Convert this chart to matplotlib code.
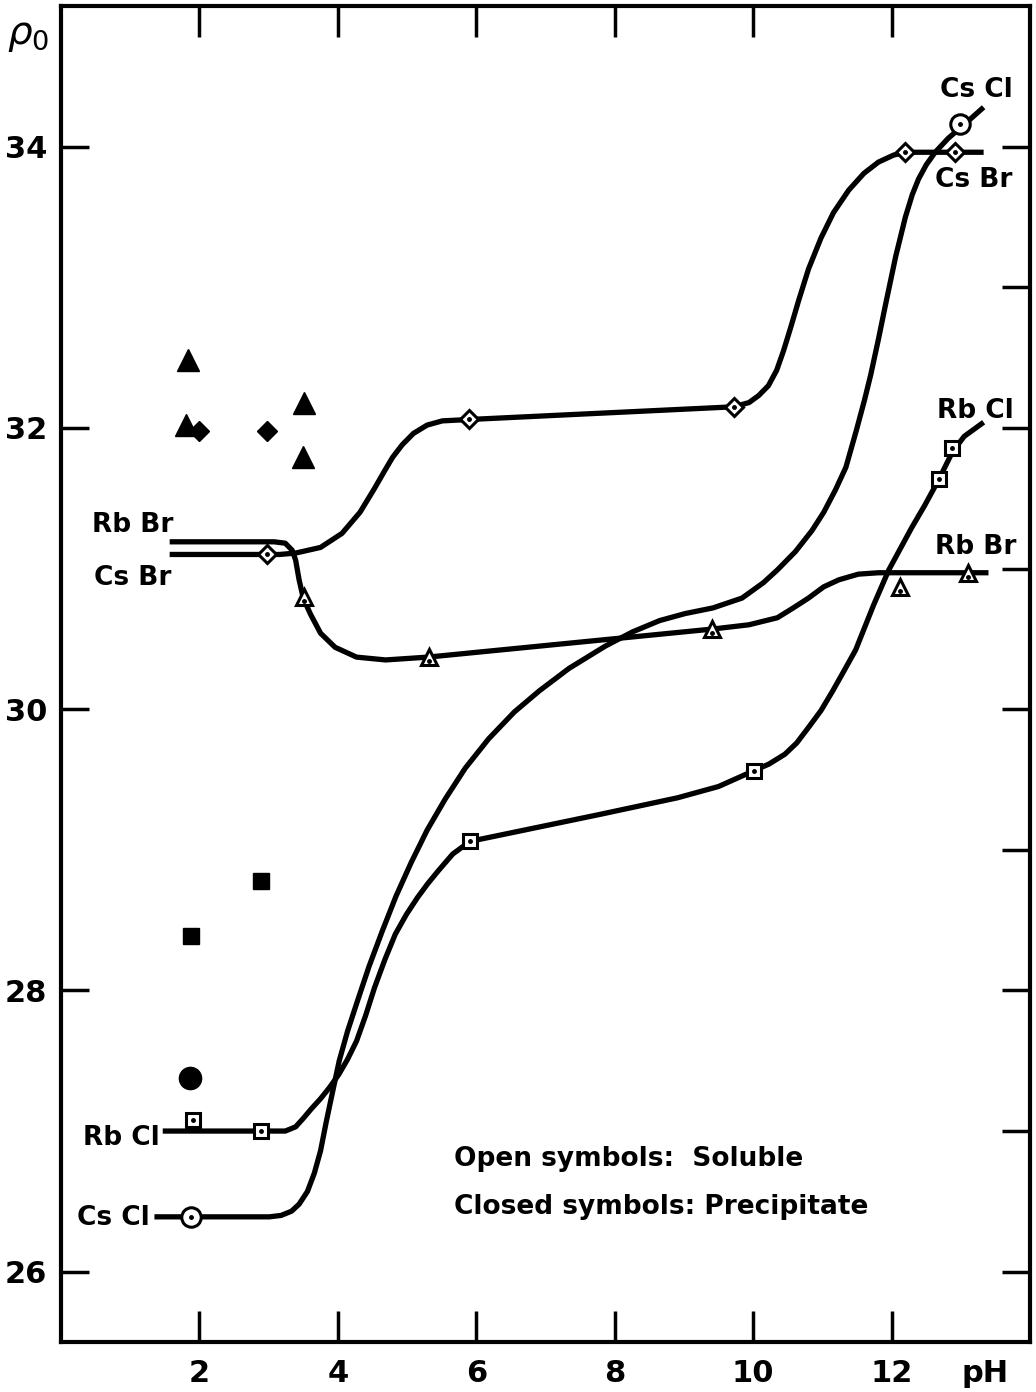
import numpy as np
import matplotlib
matplotlib.use("Agg")
import matplotlib.pyplot as plt

plt.rcParams['font.family'] = ['DejaVu Sans']

# traced curves (pH, rho_0)
csbr_x = [1.57, 2.98, 3.16, 3.39, 3.75, 4.06, 4.32, 4.53, 4.67, 4.79, 4.93, 5.09, 5.29, 5.51, 5.91,
          9.72, 9.94, 10.08, 10.22, 10.34, 10.44, 10.54, 10.66, 10.80, 10.98, 11.16, 11.38,
          11.60, 11.81, 12.03, 12.20, 12.91, 13.33]
csbr_y = [31.10, 31.10, 31.10, 31.11, 31.15, 31.25, 31.40, 31.57, 31.69, 31.79, 31.88, 31.96, 32.02, 32.05, 32.06,
          32.15, 32.18, 32.23, 32.30, 32.41, 32.55, 32.71, 32.91, 33.13, 33.35, 33.53, 33.69,
          33.81, 33.89, 33.94, 33.96, 33.96, 33.96]

rbbr_x = [1.57, 3.08, 3.24, 3.34, 3.39, 3.44, 3.50, 3.60, 3.75, 3.96, 4.27, 4.69, 5.30,
          9.42, 9.94, 10.35, 10.58, 10.80, 11.02, 11.24, 11.52, 11.81, 13.40]
rbbr_y = [31.19, 31.19, 31.18, 31.13, 31.06, 30.92, 30.79, 30.68, 30.54, 30.44, 30.37, 30.35, 30.37,
          30.57, 30.60, 30.65, 30.72, 30.79, 30.87, 30.92, 30.96, 30.97, 30.97]

rbcl_x = [1.47, 2.88, 3.24, 3.39, 3.50, 3.62, 3.75, 3.88, 4.01, 4.14, 4.27, 4.40, 4.53, 4.68, 4.83,
          4.99, 5.15, 5.30, 5.45, 5.66, 5.91, 7.77, 8.91, 9.50, 10.00, 10.23, 10.46, 10.63, 10.80,
          10.98, 11.15, 11.31, 11.48, 11.74, 11.96, 12.29, 12.48, 12.69, 12.88, 13.05, 13.33]
rbcl_y = [27.00, 27.00, 27.00, 27.03, 27.09, 27.16, 27.23, 27.31, 27.40, 27.51, 27.64, 27.82, 28.02, 28.22, 28.40,
          28.54, 28.66, 28.76, 28.85, 28.97, 29.06, 29.25, 29.37, 29.45, 29.56, 29.61, 29.68, 29.76, 29.87,
          29.99, 30.13, 30.27, 30.42, 30.74, 30.99, 31.29, 31.45, 31.64, 31.83, 31.94, 32.04]

cscl_x = [1.35, 3.01, 3.18, 3.33, 3.44, 3.56, 3.66, 3.75, 3.83, 3.92, 4.02, 4.14, 4.28, 4.45, 4.64,
          4.84, 5.06, 5.29, 5.55, 5.84, 6.18, 6.55, 6.91, 7.34, 7.87, 8.26, 8.65, 9.02, 9.42, 9.84,
          10.15, 10.35, 10.61, 10.85, 11.02, 11.19, 11.34, 11.49, 11.61, 11.70, 11.81, 11.91, 12.06,
          12.20, 12.30, 12.39, 12.50, 12.63, 12.82, 13.01, 13.33]
cscl_y = [26.39, 26.39, 26.40, 26.43, 26.48, 26.57, 26.70, 26.86, 27.06, 27.27, 27.50, 27.71, 27.92, 28.17, 28.42,
          28.67, 28.91, 29.14, 29.36, 29.58, 29.79, 29.98, 30.13, 30.29, 30.45, 30.55, 30.63, 30.68, 30.72, 30.79,
          30.90, 30.99, 31.12, 31.27, 31.40, 31.56, 31.72, 31.98, 32.20, 32.38, 32.63, 32.87, 33.22,
          33.50, 33.66, 33.77, 33.87, 33.96, 34.06, 34.14, 34.28]

# open symbols (soluble)
csbr_open_x = [2.98, 5.90, 9.72, 12.20, 12.91]
csbr_open_y = [31.10, 32.06, 32.15, 33.96, 33.96]
rbbr_open_x = [3.51, 5.32, 9.40, 12.12, 13.11]
rbbr_open_y = [30.80, 30.37, 30.57, 30.87, 30.97]
rbcl_open_x = [1.90, 2.89, 5.91, 10.01, 12.69, 12.88]
rbcl_open_y = [27.08, 27.00, 29.06, 29.56, 31.64, 31.86]
cscl_open_x = [1.88, 12.99]
cscl_open_y = [26.39, 34.16]

# closed symbols (precipitate)
rbbr_closed_x = [1.83, 1.81, 3.51, 3.50]
rbbr_closed_y = [32.48, 32.02, 32.18, 31.79]
csbr_closed_x = [2.00, 2.98]
csbr_closed_y = [31.98, 31.98]
rbcl_closed_x = [1.88, 2.89]
rbcl_closed_y = [28.39, 28.78]
cscl_closed_x = [1.86]
cscl_closed_y = [27.38]

xticks = [2, 4, 6, 8, 10, 12]
yticks = [26, 28, 30, 32, 34]

fig = plt.figure(figsize=(10.36, 13.92), dpi=100)
ax = fig.add_axes([61/1036, 1 - 1342/1392, (1030 - 61)/1036, (1342 - 6)/1392])

lw = 3.8
for cx, cy in [(csbr_x, csbr_y), (rbbr_x, rbbr_y), (rbcl_x, rbcl_y), (cscl_x, cscl_y)]:
    ax.plot(cx, cy, color='black', lw=lw, solid_joinstyle='round', solid_capstyle='butt', zorder=2)

opts = dict(linestyle='none', mfc='white', mec='black', mew=2.2, zorder=3)
ax.plot(csbr_open_x, csbr_open_y, marker='D', ms=9, **opts)
ax.plot(rbbr_open_x, rbbr_open_y, marker='^', ms=12, **opts)
ax.plot(rbcl_open_x, rbcl_open_y, marker='s', ms=10, **opts)
ax.plot(cscl_open_x, cscl_open_y, marker='o', ms=14, **opts)
# center dots
ax.plot(csbr_open_x + rbcl_open_x + cscl_open_x, csbr_open_y + rbcl_open_y + cscl_open_y,
        linestyle='none', marker='o', ms=2.5, color='black', zorder=4)
ax.plot(rbbr_open_x, np.array(rbbr_open_y) - 0.03, linestyle='none', marker='o', ms=2.5,
        color='black', zorder=4)

copts = dict(linestyle='none', color='black', zorder=3)
ax.plot(rbbr_closed_x, rbbr_closed_y, marker='^', ms=16, **copts)
ax.plot(csbr_closed_x, csbr_closed_y, marker='D', ms=10.5, **copts)
ax.plot(rbcl_closed_x, rbcl_closed_y, marker='s', ms=12, **copts)
ax.plot(cscl_closed_x, cscl_closed_y, marker='o', ms=16, **copts)

ax.set_xlim(0, 14)
ax.set_ylim(25.5, 35)
ax.set_xticks(xticks)
ax.set_xticklabels([str(t) for t in xticks])
ax.set_yticks(yticks)
ax.set_yticklabels([str(t) for t in yticks])
ax.set_yticks(np.arange(27, 35, 2), minor=True)

for s in ax.spines.values():
    s.set_linewidth(3.0)
ax.tick_params(axis='x', which='major', direction='in', length=22, width=2.5,
               top=True, bottom=True, pad=12, labelsize=22)
ax.tick_params(axis='y', which='major', direction='in', length=20, width=2.5,
               left=True, right=True, pad=10, labelsize=22)
ax.tick_params(axis='y', which='minor', direction='in', length=20, width=2.5,
               left=False, right=True)
for lab in ax.get_xticklabels() + ax.get_yticklabels():
    lab.set_fontweight('bold')

tk = dict(fontsize=19, fontweight='bold', va='center')
ax.text(1.03, 31.31, 'Rb Br', ha='center', **tk)
ax.text(1.03, 30.93, 'Cs Br', ha='center', **tk)
ax.text(1.42, 26.95, 'Rb Cl', ha='right', **tk)
ax.text(1.28, 26.38, 'Cs Cl', ha='right', **tk)
ax.text(13.23, 34.40, 'Cs Cl', ha='center', **tk)
ax.text(13.18, 33.76, 'Cs Br', ha='center', **tk)
ax.text(13.21, 32.12, 'Rb Cl', ha='center', **tk)
ax.text(13.21, 31.15, 'Rb Br', ha='center', **tk)

nt = dict(ha='left', va='center', fontsize=19, fontweight='bold')
ax.text(5.68, 26.80, 'Open symbols:  Soluble', **nt)
ax.text(5.68, 26.46, 'Closed symbols: Precipitate', **nt)

fig.text(28/1036, 1 - 35/1392, r'$\rho_0$', fontsize=28, ha='center', va='center')
fig.text(985/1036, 1 - 1373/1392, 'pH', fontsize=22, fontweight='bold', ha='center', va='center')

fig.savefig('out.png', dpi=100)
